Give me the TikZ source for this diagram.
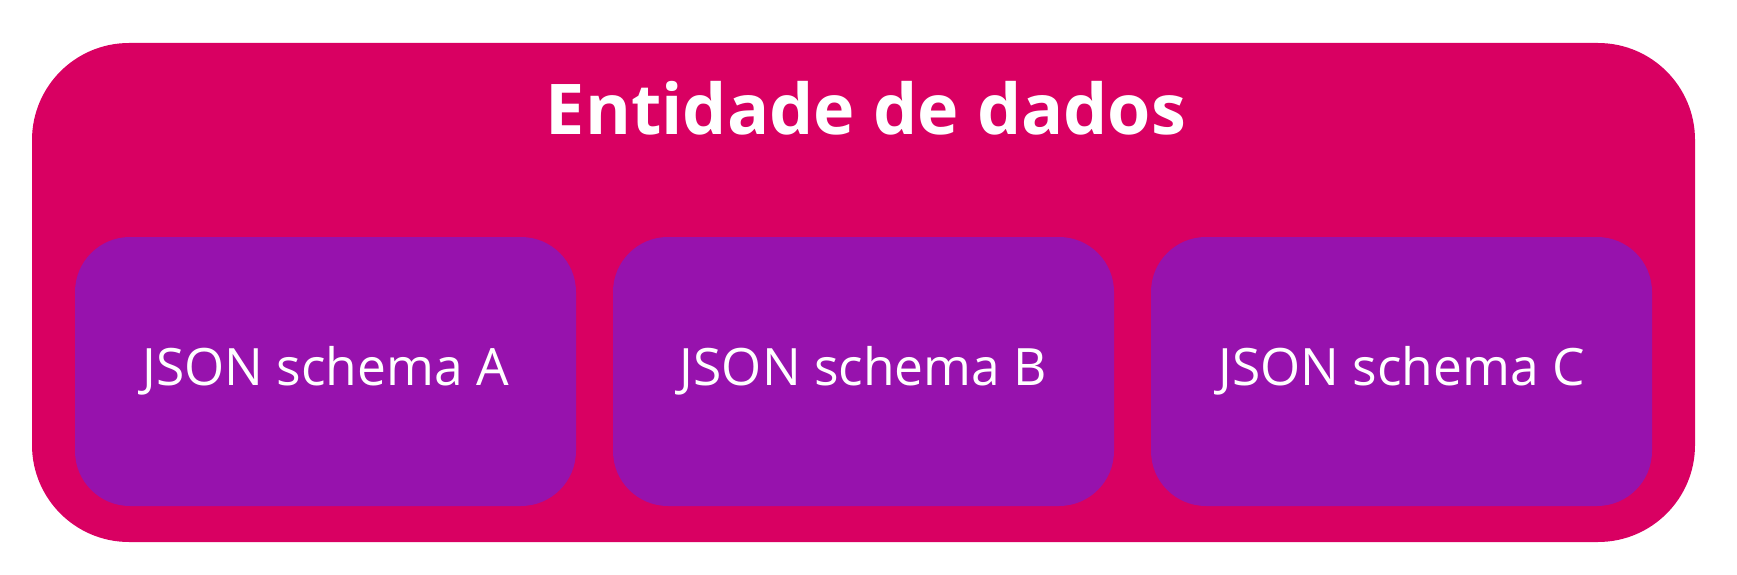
\documentclass[tikz,border=0pt]{standalone}
\usepackage{fontspec}
\setmainfont{Open Sans}
\usepackage{tikz}
\definecolor{box_pink}{RGB}{217,0,98}
\definecolor{box_purple}{RGB}{151,18,173}

\begin{document}
\begin{tikzpicture}[x=1pt,y=-1pt]
    \tikzstyle{outer}=[fill=box_pink, draw=none, rounded corners=97pt, minimum width=1663pt, minimum height=499pt, inner sep=0pt]
    \tikzstyle{schema}=[fill=box_purple, draw=none, rounded corners=55pt, minimum width=501pt, minimum height=269pt, inner sep=0pt, text=white, font=\fontsize{51.5}{60}\selectfont, text height=37pt, text depth=9pt]
    \tikzstyle{title}=[text=white, anchor=base, inner sep=0pt, font=\fontsize{70}{84}\selectfont\bfseries]

    \useasboundingbox (0,0) rectangle (1737,575);
    \node[outer] (ent) at (863.5,292.5) {};
    \node[title] (tit) at (866,135) {Entidade de dados};
    \node[schema] (a) at (325.5,371.5)  {JSON schema A};
    \node[schema] (b) at (863.5,371.5)  {JSON schema B};
    \node[schema] (c) at (1401.5,371.5) {JSON schema C};
\end{tikzpicture}
\end{document}
